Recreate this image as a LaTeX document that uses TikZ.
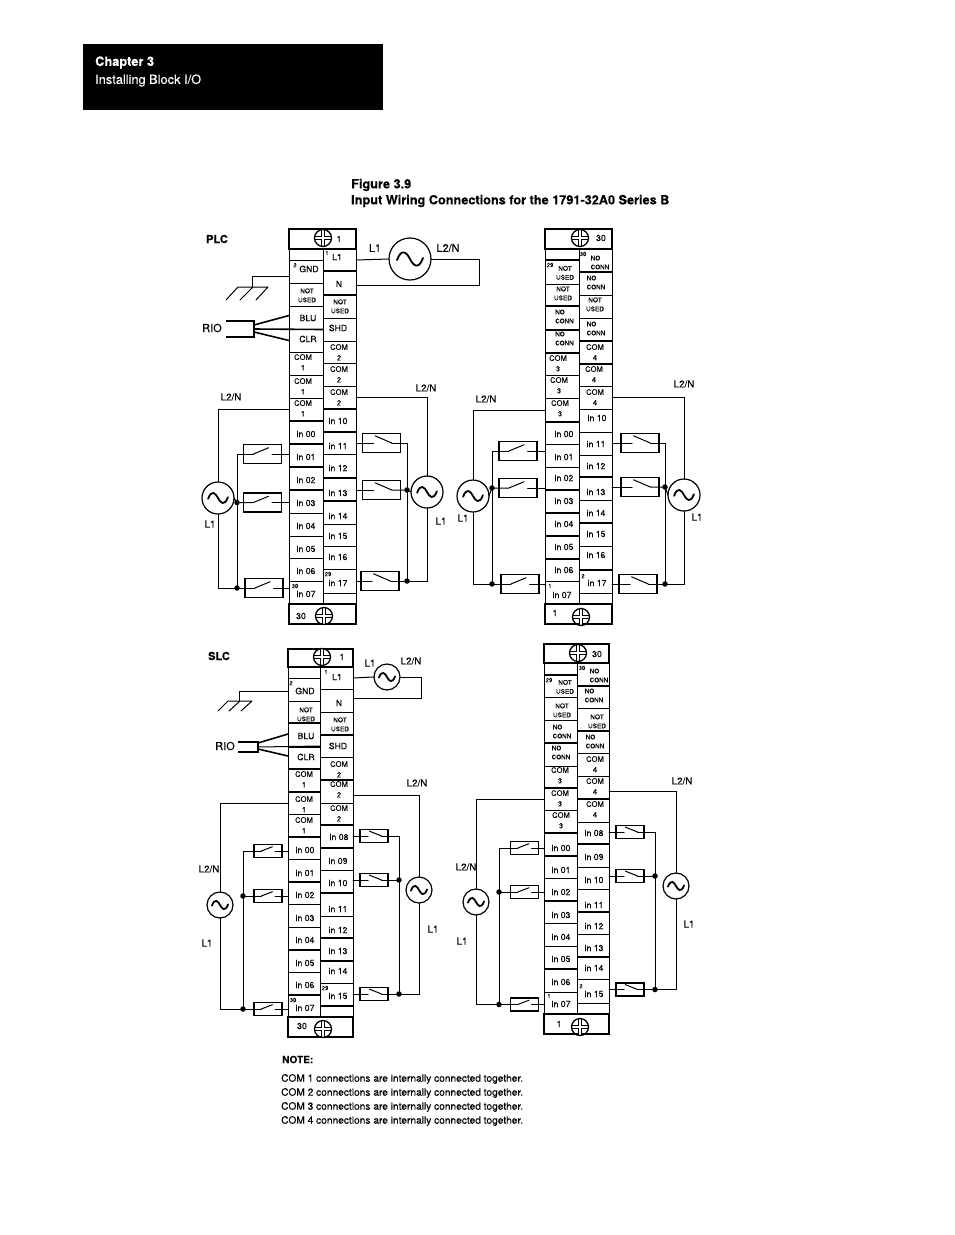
\documentclass[tikz,border=0pt]{standalone}
\usepackage{fontspec}
\setmainfont{TeX Gyre Heros}[FakeBold=0.04]
\newcommand\fA{\fontsize{8.7}{10}\selectfont}
\newcommand\COMt[1]{\raisebox{-1pt}{\fontsize{7.6}{10.6}\selectfont\begin{tabular}{@{}c@{}}COM\\#1\end{tabular}}}
\newcommand\NUt{{\fontsize{6.5}{9}\selectfont\begin{tabular}{@{}c@{}}NOT\\USED\end{tabular}}}
\newcommand\NCt{{\fontsize{6.3}{9}\selectfont\begin{tabular}{@{}l@{}}NO\\CONN\end{tabular}}}
\tikzset{
  cellbox/.style={draw,line width=.8pt,inner sep=0pt,outer sep=0pt},
  hdrbox/.style={draw,line width=1.1pt,inner sep=0pt,outer sep=0pt},
  celltext/.style={inner sep=0pt,font=\fA},
  tinytext/.style={inner sep=0pt,font=\fontsize{5.8}{6}\selectfont},
  wire/.style={line width=1pt,line cap=round,line join=miter},
  heavy/.style={line width=1.6pt},
  swbox/.style={draw,line width=1.1pt,inner sep=0pt,outer sep=0pt},
  jdot/.style={circle,fill=black,inner sep=0pt,minimum size=5.5pt},
  lab/.style={inner sep=0pt,font=\fontsize{9.8}{11}\selectfont},
  biglab/.style={inner sep=0pt,font=\fontsize{10.8}{12}\selectfont},
  riolab/.style={inner sep=0pt,font=\fontsize{11}{12}\selectfont},
  boldlab/.style={inner sep=0pt,font=\fontsize{11}{12}\bfseries\selectfont},
  notelab/.style={inner sep=0pt,anchor=west,font=\fontsize{10.18}{12}\selectfont},
  acsrc/.style={circle,draw,inner sep=0pt,outer sep=0pt,line width=1.2pt,minimum size=#1*2pt,
    path picture={\draw[x=#1pt,y=#1pt,shift={(path picture bounding box.center)},line width=1.8pt,line cap=round]
      (-.62,-.05) .. controls (-.4,.55) and (-.15,.3) .. (0,0) .. controls (.15,-.3) and (.4,-.55) .. (.62,.05);}},
  screw/.style={circle,draw,inner sep=0pt,outer sep=0pt,line width=1.3pt,minimum size=17pt,
    path picture={
      \draw[line width=4.4pt] ([xshift=-9pt]path picture bounding box.center) -- ([xshift=9pt]path picture bounding box.center);
      \draw[line width=4.4pt] ([yshift=-9pt]path picture bounding box.center) -- ([yshift=9pt]path picture bounding box.center);
      \draw[white,line width=2pt] ([xshift=-9pt]path picture bounding box.center) -- ([xshift=9pt]path picture bounding box.center);
      \draw[white,line width=2pt] ([yshift=-9pt]path picture bounding box.center) -- ([yshift=9pt]path picture bounding box.center);}},
}
% box spanning two corners
\newcommand\Bx[6]{\node[#1,minimum width={(#4-#2)*1pt},minimum height={(#5-#3)*1pt}] (#6) at ({(#2+#4)/2},{(#3+#5)/2}) {};}
% one column of terminal cells: name, x left, x right, y top, items yb/tx/ty/lw/text
\newcommand\Col[5]{%
  \foreach \yb/\tx/\ty/\lw/\txt [count=\i, remember=\yb as \yt (initially #4)] in {#5}{%
    \Bx{cellbox}{#2}{\yt}{#3}{\yb}{#1\i}
    \draw[line width=\lw pt] (#1\i.south west) -- (#1\i.south east);
    \node[celltext] (#1t\i) at (\tx,\ty) {\txt};
  }}
\newcommand\SwUp[5]{%
  \node[swbox,minimum width=#4pt,minimum height=#5pt] (#1) at (#2,#3) {};
  \coordinate (#1-a) at ({#2-.24*#4},#3);
  \coordinate (#1-b) at ({#2+.25*#4},#3);
  \draw[wire] (#1-a) -- ({#2+.16*#4},{#3-.33*#5});}
\newcommand\SwDn[5]{%
  \node[swbox,minimum width=#4pt,minimum height=#5pt] (#1) at (#2,#3) {};
  \coordinate (#1-a) at ({#2-.21*#4},#3);
  \coordinate (#1-b) at ({#2+.27*#4},#3);
  \draw[wire] ({#2-.17*#4},{#3-.38*#5}) -- (#1-b);}
\begin{document}
\begin{tikzpicture}[x=1pt,y=-1pt]
\useasboundingbox (0,0) rectangle (954,1235);
\fill[white] (0,0) rectangle (954,1235);
% chapter banner
\node[fill=black,inner sep=0pt,minimum width=300pt,minimum height=66pt] (banner) at (233,77) {};
\node[inner sep=0pt,anchor=west,text=white,font=\fontsize{12.8}{14}\bfseries\selectfont] (chap) at (95,62.5) {Chapter 3};
\node[inner sep=0pt,anchor=west,text=white,font=\fontsize{12.8}{14}\selectfont] (inst) at (95,80.5) {Installing Block I/O};
\node[inner sep=0pt,anchor=west,font=\fontsize{12.7}{14}\bfseries\selectfont] (fig) at (351,185) {Figure 3.9};
\node[inner sep=0pt,anchor=west,font=\fontsize{12.7}{14}\bfseries\selectfont] (figt) at (351,201) {Input Wiring Connections for the 1791-32A0 Series B};
\node[boldlab] (plc) at (217,239) {PLC};
\node[boldlab] (slc) at (219,656) {SLC};
\node[inner sep=0pt,anchor=west,font=\fontsize{10}{12}\bfseries\selectfont] (note) at (282,1059.5) {NOTE:};
\node[notelab] (n1) at (281,1079) {COM 1 connections are internally connected together.};
\node[notelab] (n2) at (281,1093) {COM 2 connections are internally connected together.};
\node[notelab] (n3) at (281,1107) {COM 3 connections are internally connected together.};
\node[notelab] (n4) at (281,1121) {COM 4 connections are internally connected together.};

%================ block A (PLC, left)
\Bx{hdrbox}{289}{229}{356}{249}{Ah}
\Bx{hdrbox}{289}{604}{356}{624}{Af}
\Col{AL}{289}{323}{249}{260/306/255/.9/{},283/309/269/.8/GND,306/307/296/.8/\NUt,329/308/318/.8/BLU,352/308/339/.8/CLR,375/303/363/.8/\COMt{1},398/303/387/.8/\COMt{1},421/303/409/1.6/\COMt{1},444/306/434/1.6/in 00,467/306/457/1.6/in 01,490/306/480/1.6/in 02,513/306/503/.8/in 03,536/306/526/.8/in 04,558/306/549/.8/in 05,581/306/571/.8/in 06,604/306/594/.8/in 07}
\Col{AR}{323}{356}{249}{271/337/257/1.6/L1,295/339/284/1.6/N,318/340/307/.8/\NUt,341/338/328/.8/SHD,363/339/353/.8/\COMt{2},386/339/375/.8/\COMt{2},409/339/398/1.6/\COMt{2},432/338/421/1.6/in 10,454/338/446/.8/in 11,478/338/468/1.6/in 12,501/338/493/1.6/in 13,524/338/516/.8/in 14,546/338/536/.8/in 15,569/338/557/.8/in 16,593/338/583/.8/in 17,604/338/598/.8/{}}
\node[screw] (Ah1) at (323,238) {};
\node[celltext] (Aht) at (339,239) {1};
\node[screw] (Af1) at (324,616) {};
\node[celltext] (Aft) at (301,616) {30};
\node[tinytext] (An1) at (295,265) {2};
\node[tinytext] (An2) at (327,253) {1};
\node[tinytext] (An3) at (295,586) {30};
\node[tinytext] (An4) at (328,574) {29};
% source at the top
\node[acsrc=21] (As0) at (410,259) {};
\coordinate (Ac1) at (479,259);
\coordinate (Ac2) at (479,285);
\draw[wire] (AR1.east) -- (As0.west);
\draw[wire] (As0.east) -- (Ac1) -- (Ac2) -- ([yshift=-2pt]AR2.east);
\node[biglab] (Al1) at (375,248) {L1};
\node[biglab] (Al2) at (448,248) {L2/N};
% ground
\coordinate (Ag0) at (252,287);
\draw[wire] ([yshift=-4.5pt]AL2.west) -| (Ag0);
\draw[wire] (238,287) -- (268,287) (238,287) -- (226,300) (253,287) -- (240,300) (268,287) -- (256,300);
% RIO
\node[riolab] (Ario) at (212,328) {RIO};
\coordinate (Ar1) at (254,321); \coordinate (Ar2) at (254,337);
\draw[heavy] (226,321) -- (Ar1) -- (Ar2) -- (226,337);
\draw[heavy] (254,325) -- ([yshift=2pt]AL4.west);
\draw[heavy] (254,329) -- (AR4.west);
\draw[heavy] (254,332) -- (AL5.west);
% left field wiring
\node[acsrc=16] (As1) at (218,498) {};
\node[lab] (Al3) at (231,397) {L2/N};
\node[lab] (Al4) at (210,524) {L1};
\SwUp{Asa}{262.5}{454}{38}{19}
\SwUp{Asb}{262.5}{502.5}{38}{19}
\SwUp{Asc}{264}{588}{38}{19}
\node[jdot] (Ad1) at (237,502.5) {};
\node[jdot] (Ad2) at (237,588) {};
\draw[wire] (AL8.west) -| (As1.north);
\draw[wire] (As1.south) |- (Asc-a);
\draw[wire] (Asa-a) -| (Ad2.center);
\draw[wire] (As1.east) -- (Ad1.center) -- (Asb-a);
\draw[wire] (Asa-b) -- (Asa-b -| AL10.west);
\draw[wire] (Asb-b) -- (Asb-b -| AL12.west);
\draw[wire] (Asc-b) -- (Asc-b -| AL16.west);
% right field wiring
\node[acsrc=16] (As2) at (427,492) {};
\node[lab] (Al5) at (426,388) {L2/N};
\node[lab] (Al6) at (441,521) {L1};
\SwDn{Asd}{381.5}{443}{38}{19}
\SwDn{Ase}{381.5}{490}{38}{19}
\SwDn{Asf}{380}{581}{38}{19}
\node[jdot] (Ad3) at (407,490) {};
\node[jdot] (Ad4) at (407,581) {};
\draw[wire] (AR7.east) -| (As2.north);
\draw[wire] (As2.south) |- (Asf-b);
\draw[wire] (Asd-b) -| (Ad4.center);
\draw[wire] (Ase-b) -- (Ad3.center) -- (As2.west);
\draw[wire] (Asd-a) -- (Asd-a -| AR9.east);
\draw[wire] (Ase-a) -- (Ase-a -| AR11.east);
\draw[wire] (Asf-a) -- (Asf-a -| AR15.east);

%================ block B (PLC, right)
\Bx{hdrbox}{545}{229}{612}{249}{Bh}
\Bx{hdrbox}{545}{604}{612}{624}{Bf}
\Col{BL}{545}{579}{249}{260/562/255/1.4/{},284/565/273.5/.8/\NUt,306/563/294/1.6/\NUt,330/564.5/317/1.6/\NCt,353/564.5/339/1.6/\NCt,375/558/364/.8/\COMt{3},398/559/386/.8/\COMt{3},422/560/409/1.6/\COMt{3},444/564/434/.8/in 00,467/564/457/.8/in 01,490/564/478/1.6/in 02,513/564/501/1.6/in 03,536/564/524/1.6/in 04,559/564/547/1.6/in 05,581/564/570/.8/in 06,604/562/595/.8/in 07}
\Col{BR}{579}{612}{249}{272/600/263/1.6/\NCt,295/596/283/.8/\NCt,318/595/305/.8/\NUt,341/596/329/1.4/\NCt,364/595/353/1.6/\COMt{4},386/594/375/.8/\COMt{4},409/595/398/.8/\COMt{4},432/597/418/.8/in 10,455/596/444/.8/in 11,477/596/466/1.6/in 12,500/596/492/.8/in 13,523/596/513/1.6/in 14,546/596/534/.8/in 15,570/596/555/1.6/in 16,593/597/583/.8/in 17,604/597/598/.8/{}}
\node[screw] (Bh1) at (580,238) {};
\node[celltext] (Bht) at (601,238) {30};
\node[screw] (Bf1) at (581,617) {};
\node[celltext] (Bft) at (555,613) {1};
\node[tinytext] (Bn1) at (550,265) {29};
\node[tinytext] (Bn2) at (583,254) {30};
\node[tinytext] (Bn3) at (550,586) {1};
\node[tinytext] (Bn4) at (583,576) {2};
\node[lab] (Bl3) at (486,399) {L2/N};
\node[lab] (Bl4) at (463,518) {L1};
\node[acsrc=16] (Bs1) at (473,496) {};
\SwUp{Bsa}{518}{451}{38}{19}
\SwUp{Bsb}{518}{488}{38}{19}
\SwUp{Bsc}{520}{584}{38}{19}
\node[jdot] (Bd1) at (492,488) {};
\node[jdot] (Bd2) at (492,584) {};
\draw[wire] (BL8.west) -| (Bs1.north);
\draw[wire] (Bs1.south) |- (Bsc-a);
\draw[wire] (Bsa-a) -| (Bd2.center);
\draw[wire] (Bs1.east) -- (Bd1.center) -- (Bsb-a);
\draw[wire] (Bsa-b) -- (Bsa-b -| BL10.west);
\draw[wire] (Bsb-b) -- (Bsb-b -| BL11.west);
\draw[wire] (Bsc-b) -- (Bsc-b -| BL16.west);
\node[lab] (Bl5) at (684,384) {L2/N};
\node[lab] (Bl6) at (697,517) {L1};
\node[acsrc=16] (Bs2) at (684,495) {};
\SwDn{Bsd}{640}{443}{38}{19}
\SwDn{Bse}{640}{487}{38}{19}
\SwDn{Bsf}{638}{584}{38}{19}
\node[jdot] (Bd3) at (665,487) {};
\node[jdot] (Bd4) at (665,584) {};
\draw[wire] (BR7.east) -| (Bs2.north);
\draw[wire] (Bs2.south) |- (Bsf-b);
\draw[wire] (Bsd-b) -| (Bd4.center);
\draw[wire] (Bse-b) -- (Bd3.center) -- (Bs2.west);
\draw[wire] (Bsd-a) -- (Bsd-a -| BR9.east);
\draw[wire] (Bse-a) -- (Bse-a -| BR11.east);
\draw[wire] (Bsf-a) -- (Bsf-a -| BR15.east);

%================ block C (SLC, left)
\Bx{hdrbox}{288}{649}{353}{667}{Ch}
\Bx{hdrbox}{288}{1017}{353}{1037}{Cf}
\Col{CL}{288}{320}{667}{678/304/672/.8/{},701/305/691/.8/GND,723/306/715/1.6/\NUt,747/306/736/1.6/BLU,769/306/757/1.6/CLR,792/304/780/1.6/\COMt{1},814/304/805/.8/\COMt{1},837/304/826/1.6/\COMt{1},859/305/850/.8/in 00,882/305/873/1.6/in 01,904/305/895/.8/in 02,927/305/918/.8/in 03,950/305/940/1.6/in 04,972/305/963/.8/in 05,995/305/985/1.6/in 06,1017/305/1008/1.6/in 07}
\Col{CR}{320}{353}{667}{689/337/677/.8/L1,712/339/703/.8/N,735/340/725/1.6/\NUt,757/338/746/.8/SHD,780/339/770/1.6/\COMt{2},803/339/790/.8/\COMt{2},825/339/814/1.6/\COMt{2},848/339/837/1.6/in 08,870/338/861/.8/in 09,893/338/883/1.6/in 10,916/338/909/.8/in 11,938/338/930/1.6/in 12,961/338/951/1.6/in 13,983/338/971/.8/in 14,1006/338/996/1.6/in 15,1017/338/1011/.8/{}}
\node[screw] (Ch1) at (322,657) {};
\node[celltext] (Cht) at (342,657) {1};
\node[screw] (Cf1) at (323,1029) {};
\node[celltext] (Cft) at (302,1026) {30};
\node[tinytext] (Cn1) at (291,683) {2};
\node[tinytext] (Cn2) at (326,672) {1};
\node[tinytext] (Cn3) at (293,1000) {30};
\node[tinytext] (Cn4) at (325,988) {29};
\node[acsrc=13] (Cs0) at (387,677) {};
\coordinate (Cc1) at (421,677);
\coordinate (Cc2) at (421,698);
\draw[wire] (CR1.east) -- (Cs0.west);
\draw[wire] (Cs0.east) -- (Cc1) -- (Cc2) -- ([yshift=2.5pt]CR2.east);
\node[lab] (Cl1) at (370,663) {L1};
\node[lab] (Cl2) at (411,661) {L2/N};
\coordinate (Cg0) at (239,701);
\draw[wire] ([yshift=-1.5pt]CL2.west) -| (Cg0);
\draw[wire] (228,701) -- (252,701) (228,701) -- (218,711) (240,701) -- (229,711) (252,701) -- (241,711);
\node[riolab] (Crio) at (225,746) {RIO};
\coordinate (Cr1) at (258,742); \coordinate (Cr2) at (258,752);
\draw[heavy] (238,742) -- (Cr1) -- (Cr2) -- (238,752);
\draw[heavy] (258,743) -- ([yshift=1pt]CL4.west);
\draw[wire] (258,747) -- (CR4.west);
\draw[heavy] (258,749) -- ([yshift=2pt]CL5.west);
\node[acsrc=13] (Cs1) at (220,905) {};
\node[lab] (Cl3) at (209,869) {L2/N};
\node[lab] (Cl4) at (207,943) {L1};
\SwUp{Csa}{268}{851}{28}{13}
\SwUp{Csb}{268}{896}{28}{13}
\SwUp{Csc}{268}{1009}{28}{13}
\node[jdot] (Cd1) at (243,896) {};
\node[jdot] (Cd2) at (243,1009) {};
\draw[wire] (CL7.west) -| (Cs1.north);
\draw[wire] (Cs1.south) |- (Csc-a);
\draw[wire] (Csa-a) -| (Cd2.center);
\draw[wire] (Cd1.center) -- (Csb-a);
\draw[wire] (Csa-b) -- (Csa-b -| CL9.west);
\draw[wire] (Csb-b) -- (Csb-b -| CL11.west);
\draw[wire] (Csc-b) -- (Csc-b -| CL16.west);
\node[acsrc=13] (Cs2) at (419,890) {};
\node[lab] (Cl5) at (417,783) {L2/N};
\node[lab] (Cl6) at (433,929) {L1};
\SwDn{Csd}{374}{836}{28}{13}
\SwDn{Cse}{374}{880}{28}{13}
\SwDn{Csf}{374}{994}{28}{13}
\node[jdot] (Cd3) at (399,880) {};
\node[jdot] (Cd4) at (399,994) {};
\draw[wire] ([yshift=-3.5pt]CR6.east) -| (Cs2.north);
\draw[wire] (Cs2.south) |- (Csf-b);
\draw[wire] (Csd-b) -| (Cd4.center);
\draw[wire] (Cse-b) -- (Cd3.center);
\draw[wire] (Csd-a) -- (Csd-a -| CR8.east);
\draw[wire] (Cse-a) -- (Cse-a -| CR10.east);
\draw[wire] (Csf-a) -- (Csf-a -| CR15.east);

%================ block D (SLC, right)
\Bx{hdrbox}{544}{644}{609}{663}{Dh}
\Bx{hdrbox}{544}{1014}{609}{1034}{Df}
\Col{DL}{544}{577}{663}{675/560/669/1.4/{},697/565/687.5/.8/\NUt,720/562/711/.8/\NUt,743/562/732/1.6/\NCt,766/561/753/.8/\NCt,788/560/776/1.6/\COMt{3},810/560/799/.8/\COMt{3},833/561/821/1.6/\COMt{3},856/561/848/1.6/in 00,878/561/870/.8/in 01,901/561/892/1.6/in 02,923/561/915/.8/in 03,946/561/937/.8/in 04,969/561/959/1.6/in 05,992/561/982/.8/in 06,1014/561/1004/1.6/in 07}
\Col{DR}{577}{609}{663}{686/599/676/1.6/\NCt,708/594/696/.8/\NCt,731/597/722/1.6/\NUt,753/595/742/.8/\NCt,776/595/765/.8/\COMt{4},799/595/787/1.6/\COMt{4},822/595/810/.8/\COMt{4},844/594/833/1.6/in 08,867/594/857/.8/in 09,889/594/880/.8/in 10,912/594/905/1.6/in 11,934/594/926/.8/in 12,957/594/948/1.6/in 13,979/594/968/.8/in 14,1003/594/994/.8/in 15,1014/594/1008/1.6/{}}
\node[screw] (Dh1) at (578,653) {};
\node[celltext] (Dht) at (597,654) {30};
\node[screw] (Df1) at (580,1027) {};
\node[celltext] (Dft) at (559,1024) {1};
\node[tinytext] (Dn1) at (549,680) {29};
\node[tinytext] (Dn2) at (582,668) {30};
\node[tinytext] (Dn3) at (549,996) {1};
\node[tinytext] (Dn4) at (581,986) {2};
\node[acsrc=13] (Ds1) at (476,902) {};
\node[lab] (Dl3) at (466,867) {L2/N};
\node[lab] (Dl4) at (462,941) {L1};
\SwUp{Dsa}{524.5}{848}{28}{13}
\SwUp{Dsb}{524.5}{892}{28}{13}
\SwUp{Dsc}{524.5}{1004.5}{28}{13}
\node[jdot] (Dd1) at (499,892) {};
\node[jdot] (Dd2) at (499,1004.5) {};
\draw[wire] (DL7.west) -| (Ds1.north);
\draw[wire] (Ds1.south) |- (Dsc-a);
\draw[wire] (Dsa-a) -| (Dd2.center);
\draw[wire] (Dd1.center) -- (Dsb-a);
\draw[wire] (Dsa-b) -- (Dsa-b -| DL9.west);
\draw[wire] (Dsb-b) -- (Dsb-b -| DL11.west);
\draw[wire] (Dsc-b) -- (Dsc-b -| DL16.west);
\node[acsrc=13] (Ds2) at (676,886) {};
\node[lab] (Dl5) at (682,781) {L2/N};
\node[lab] (Dl6) at (689,924) {L1};
\SwDn{Dsd}{630}{832}{28}{13}
\SwDn{Dse}{630}{876}{28}{13}
\SwDn{Dsf}{630}{989.5}{28}{13}
\node[jdot] (Dd3) at (655,876) {};
\node[jdot] (Dd4) at (655,989.5) {};
\draw[wire] ([yshift=-3.5pt]DR6.east) -| (Ds2.north);
\draw[wire] (Ds2.south) |- (Dsf-b);
\draw[wire] (Dsd-b) -| (Dd4.center);
\draw[wire] (Dse-b) -- (Dd3.center);
\draw[wire] (Dsd-a) -- (Dsd-a -| DR8.east);
\draw[wire] (Dse-a) -- (Dse-a -| DR10.east);
\draw[wire] (Dsf-a) -- (Dsf-a -| DR15.east);
\end{tikzpicture}
\end{document}
